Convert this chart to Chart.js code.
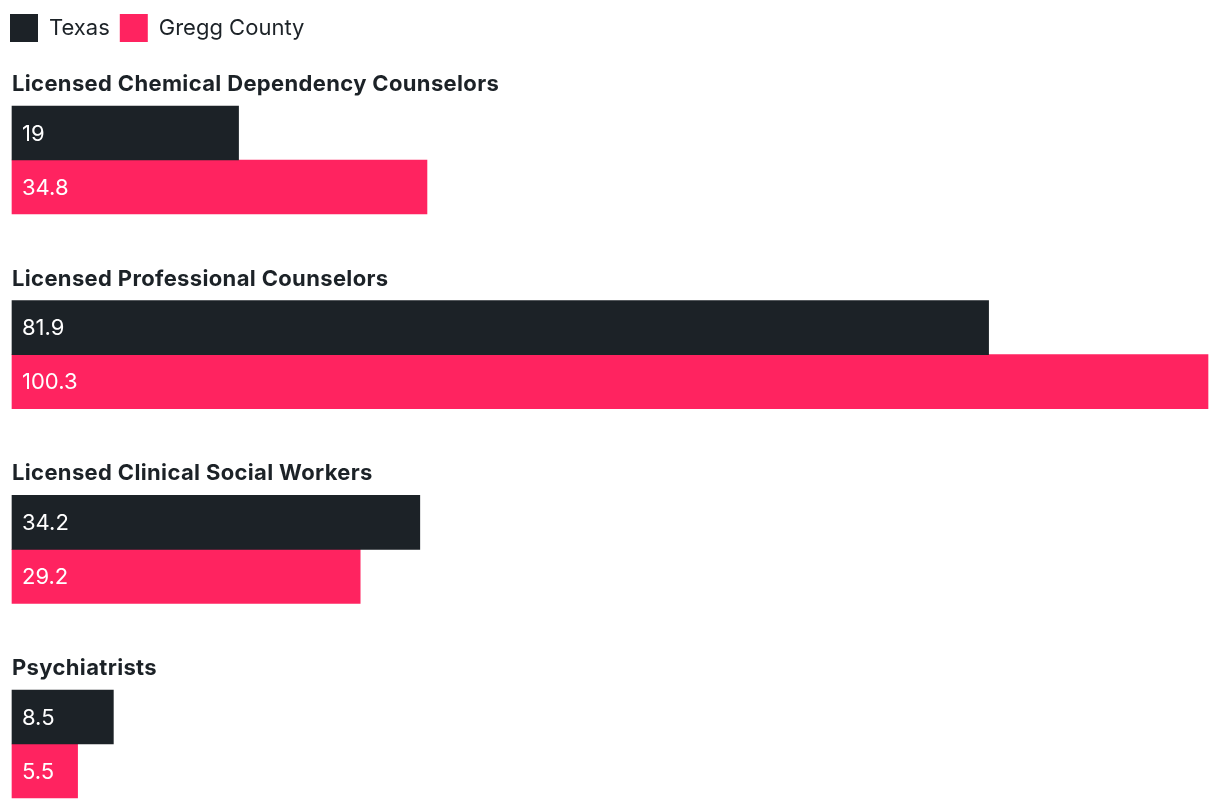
<!DOCTYPE html>
<html>
<head>
<meta charset="utf-8">
<script src="https://cdn.jsdelivr.net/npm/chart.js@4.4.1/dist/chart.umd.min.js"></script>
<style>
    html, body { margin: 0; padding: 0; background: #fff; }
    #wrap { width: 1220px; height: 808px; position: relative; }
</style>
</head>
<body>
<div id="wrap"><canvas id="chart"></canvas></div>
<script>
const categories = [
    'Licensed Chemical Dependency Counselors',
    'Licensed Professional Counselors',
    'Licensed Clinical Social Workers',
    'Psychiatrists'
];
const seriesNames = ['Texas', 'Gregg County'];
const texasValues = [19, 81.9, 34.2, 8.5];
const greggValues = [34.8, 100.3, 29.2, 5.5];

const DARK = '#1c2227';
const PINK = '#ff2360';
const FONT = 'Inter, "Open Sans", sans-serif';

// category titles above each group and values inside each bar
const barLabels = {
    id: 'barLabels',
    afterDatasetsDraw(chart) {
        const ctx = chart.ctx;
        ctx.save();
        const first = chart.getDatasetMeta(0).data;
        first.forEach((bar, i) => {
            const top = bar.y - bar.height / 2;
            ctx.font = 'bold 22px ' + FONT;
            ctx.letterSpacing = '0.35px';
            ctx.fillStyle = DARK;
            ctx.textAlign = 'left';
            ctx.textBaseline = 'alphabetic';
            ctx.fillText(categories[i], 12, top - 15);
        });
        ctx.letterSpacing = '0px';
        chart.data.datasets.forEach((ds, d) => {
            chart.getDatasetMeta(d).data.forEach((bar, i) => {
                ctx.font = '22px ' + FONT;
                ctx.fillStyle = '#ffffff';
                ctx.textAlign = 'left';
                ctx.textBaseline = 'middle';
                ctx.fillText(String(ds.data[i]), 22, bar.y + 1);
            });
        });
        ctx.restore();
    }
};

function initChart() {
    const ctx = document.getElementById('chart');
    new Chart(ctx.getContext('2d'), {
        type: 'bar',
        data: {
            labels: categories,
            datasets: [{
                label: seriesNames[0],
                data: texasValues,
                backgroundColor: DARK,
                barThickness: 54,
                clip: false
            }, {
                label: seriesNames[1],
                data: greggValues,
                backgroundColor: PINK,
                barThickness: 54,
                clip: false
            }]
        },
        options: {
            indexAxis: 'y',
            responsive: true,
            maintainAspectRatio: false,
            animation: false,
            layout: {
                padding: { top: 4, left: 0, right: 12, bottom: 64 }
            },
            scales: {
                x: {
                    position: 'top',
                    min: 0,
                    max: 100.3,
                    grid: { display: false },
                    border: { display: false },
                    ticks: { display: false },
                    afterFit: s => { s.height = 108; }
                },
                y: {
                    offset: false,
                    grid: { display: false },
                    border: { display: false },
                    ticks: { display: false },
                    afterFit: s => { s.width = 12; }
                }
            },
            plugins: {
                legend: {
                    position: 'top',
                    align: 'start',
                    labels: {
                        boxWidth: 28,
                        boxHeight: 28,
                        padding: 10,
                        color: DARK,
                        font: { family: FONT, size: 22 }
                    }
                },
                tooltip: { enabled: false }
            }
        },
        plugins: [barLabels]
    });
}

document.addEventListener('DOMContentLoaded', initChart);
</script>
</body>
</html>
